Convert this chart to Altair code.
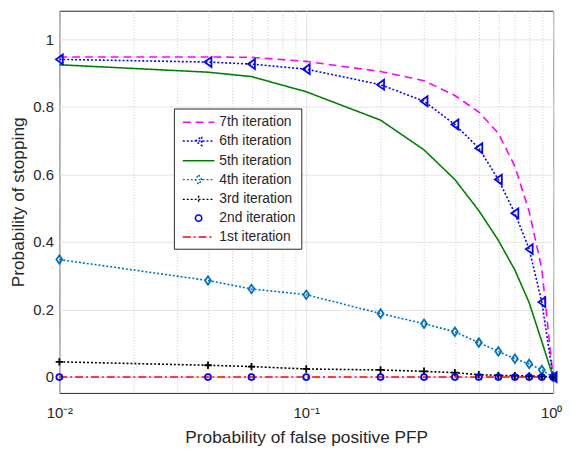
import altair as alt
import pandas as pd

# ---- data ----
pfp = [0.01, 0.04, 0.06, 0.1, 0.2, 0.3, 0.4, 0.5, 0.6, 0.7, 0.8, 0.9, 1.0]

it7 = [0.948, 0.948, 0.947, 0.935, 0.905, 0.878, 0.834, 0.785, 0.722, 0.624, 0.490, 0.320, 0.0]
it6 = [0.941, 0.933, 0.927, 0.912, 0.866, 0.817, 0.748, 0.678, 0.585, 0.485, 0.379, 0.222, 0.0]
it5 = [0.925, 0.903, 0.890, 0.845, 0.761, 0.673, 0.585, 0.493, 0.405, 0.317, 0.220, 0.105, 0.0]
it4 = [0.348, 0.286, 0.261, 0.244, 0.188, 0.158, 0.134, 0.102, 0.076, 0.054, 0.039, 0.021, 0.0]
it3 = [0.045, 0.035, 0.031, 0.024, 0.021, 0.017, 0.013, 0.007, 0.005, 0.004, 0.003, 0.002, 0.0]
it2 = [0.0, 0.0, 0.0, 0.0, 0.0, 0.0, 0.0, 0.0, 0.0, 0.0, 0.0, 0.0, 0.0]
it1 = [0.0, 0.0, 0.0, 0.0, 0.0, 0.0, 0.0, 0.0, 0.0, 0.0, 0.0, 0.0, 0.0]

series_names = ["7th iteration", "6th iteration", "5th iteration", "4th iteration",
                "3rd iteration", "2nd iteration", "1st iteration"]
series_values = [it7, it6, it5, it4, it3, it2, it1]

x_grid_values = [0.01, 0.02, 0.03, 0.04, 0.05, 0.06, 0.07, 0.08, 0.09,
                 0.1, 0.2, 0.3, 0.4, 0.5, 0.6, 0.7, 0.8, 0.9, 1.0]
y_tick_values = [0, 0.2, 0.4, 0.6, 0.8, 1.0]

# ---- styles ----
colors = ["#ff00ff", "#0000ff", "#008000", "#0072bd", "#000000", "#0000ff", "#ff0000"]
dashes = [[8, 5], [2, 2], [1, 0], [2, 2], [2, 2], [1, 0], [8, 3, 2, 3]]
# legend symbol paths: one unit = 8 px (symbolSize 256)
legend_paths = [
    "M-2,0H2",
    "M-2,0H2M-0.4,0L0.4,-0.56L0.4,0.56Z",
    "M-2,0H2",
    "M-2,0H2M0,-0.6L0.42,0L0,0.6L-0.42,0Z",
    "M-2,0H2M0,-0.45V0.45",
    "M0.4,0A0.4,0.4,0,1,1,-0.4,0A0.4,0.4,0,1,1,0.4,0Z",
    "M-2,0H2",
]

rows = []
for name, vals in zip(series_names, series_values):
    for xv, yv in zip(pfp, vals):
        rows.append({"pfp": xv, "prob": yv, "series": name})
df = pd.DataFrame(rows)

FONT = "Liberation Sans"
TXT = "#262626"

decade_test = "abs(log(datum.value)/LN10 - round(log(datum.value)/LN10)) < 0.000001"
last_test = "datum.value > 0.99"

x_axis = alt.Axis(
    title="Probability of false positive PFP",
    values=x_grid_values,
    labelExpr="datum.value < 0.011 ? '10⁻²' : (abs(datum.value - 0.1) < 0.000001 ? '10⁻¹' : (datum.value > 0.99 ? '10⁰' : ''))",
    labelFlush=False,
    labelOverlap=False,
    labelPadding=13,
    labelAlign={"condition": {"test": last_test, "value": "right"}, "value": "center"},
    labelOffset={"condition": {"test": last_test, "value": 9}, "value": 0},
    ticks=False,
    tickSize=0,
    domain=False,
    grid=True,
    gridDash={"condition": {"test": decade_test, "value": [1, 0]}, "value": [1, 2]},
    gridColor={"condition": {"test": decade_test, "value": "#dedede"}, "value": "#c8c8c8"},
    titleBaseline="alphabetic",
    titleY=50,
)
y_axis = alt.Axis(
    title="Probability of stopping",
    values=y_tick_values,
    labelExpr="datum.value == 0 ? '0' : (datum.value == 1 ? '1' : format(datum.value, '.1f'))",
    labelPadding=6,
    ticks=False,
    tickSize=0,
    domain=False,
    grid=True,
    gridColor="#e3e3e3",
    titleBaseline="alphabetic",
    titleX=-36,
)

x_enc = alt.X("pfp:Q", scale=alt.Scale(type="log", domain=[0.01, 1.0], nice=False), axis=x_axis)
y_enc = alt.Y("prob:Q", scale=alt.Scale(domain=[-0.047, 1.085], nice=False, zero=False), axis=y_axis)

leg = alt.Legend(
    title=None, orient="none", legendX=116, legendY=99,
    symbolSize=256, symbolStrokeWidth=1.5, symbolOpacity=1, symbolOffset=11,
    labelFont=FONT, labelFontSize=14, labelColor=TXT, labelOffset=12,
    strokeColor="#262626", fillColor="white", padding=5, rowPadding=3,
)

color_enc = alt.Color("series:N", scale=alt.Scale(domain=series_names, range=colors), legend=leg)
dash_enc = alt.StrokeDash("series:N", scale=alt.Scale(domain=series_names, range=dashes), legend=leg)
shape_enc = alt.Shape("series:N", scale=alt.Scale(domain=series_names, range=legend_paths), legend=leg)

base = alt.Chart(df)

legend_layer = base.mark_point(filled=False, strokeWidth=1.5).encode(
    x=x_enc, y=y_enc, color=color_enc, strokeDash=dash_enc, shape=shape_enc,
    opacity=alt.value(0),
)

line_series = [s for s in series_names if s != "2nd iteration"]
lines = base.transform_filter(
    alt.FieldOneOfPredicate(field="series", oneOf=line_series)
).mark_line(strokeWidth=1.6).encode(
    x=x_enc, y=y_enc, color=color_enc, strokeDash=dash_enc,
)

marker_specs = [
    ("6th iteration", "M-0.7,0L0.7,-1L0.7,1Z", 100),
    ("4th iteration", "M0,-1L0.7,0L0,1L-0.7,0Z", 74),
    ("3rd iteration", "M-1,0H1M0,-1V1", 56),
    ("2nd iteration", "circle", 36),
]
marker_layers = []
for name, shp, sz in marker_specs:
    marker_layers.append(
        base.transform_filter(alt.datum.series == name)
        .mark_point(shape=shp, size=sz, filled=False, strokeWidth=1.8, opacity=1)
        .encode(x=x_enc, y=y_enc, color=color_enc)
    )

chart = alt.layer(legend_layer, lines, *marker_layers).properties(
    width=500, height=387,
    padding={"left": 52, "top": 0, "right": 10, "bottom": 54},
    autosize=alt.AutoSizeParams(type="none"),
).configure_view(
    stroke="#262626", strokeWidth=1
).configure_axis(
    labelFont=FONT, labelFontSize=15, labelColor=TXT,
    titleFont=FONT, titleFontSize=17.5, titleColor=TXT, titleFontWeight="normal",
)

chart.save("out.html", embed_options={"renderer": "svg", "actions": False})
